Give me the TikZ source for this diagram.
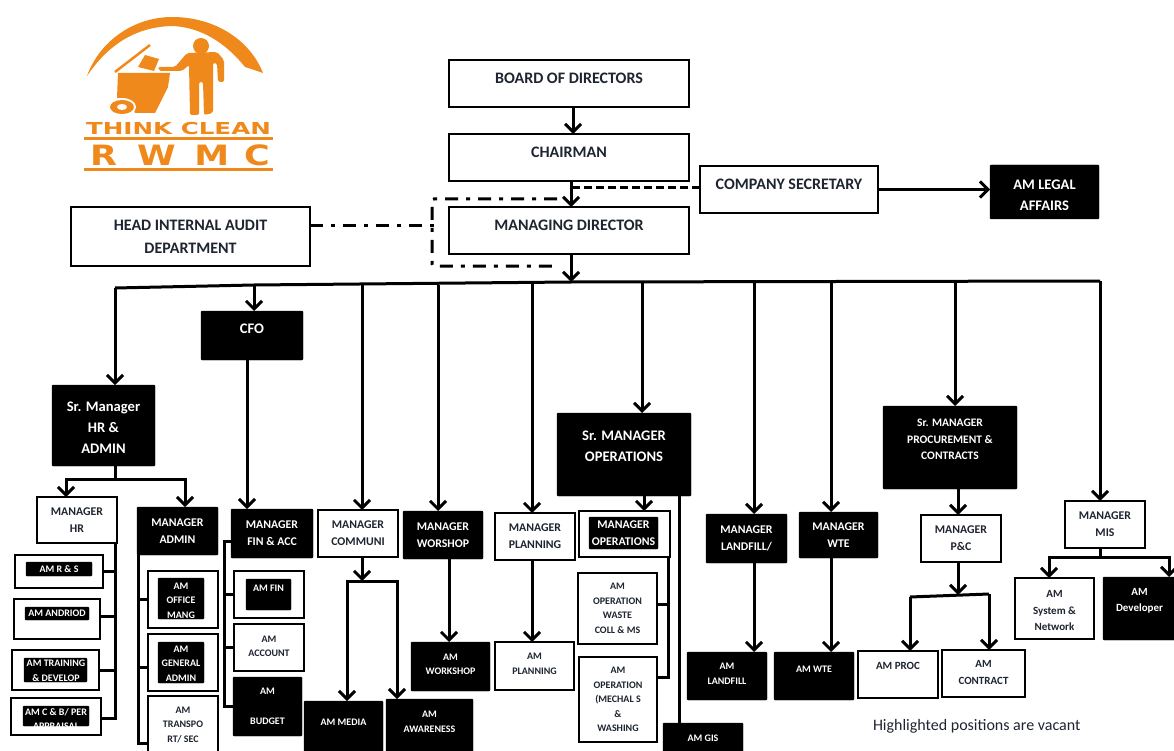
\documentclass[tikz,border=0pt]{standalone}
\usepackage{fontspec}
\setmainfont{Carlito}
\newfontfamily\logofont{DejaVu Sans}
\usetikzlibrary{arrows.meta}
\definecolor{LOGO_COLOR}{HTML}{F0891B}
\definecolor{TEXT_COLOR}{HTML}{1E2430}
\tikzset{
 span/.style n args={4}{anchor=north west, at={(#1,#2)}, minimum width={(#3-#1)*1pt}, minimum height={(#4-#2)*1pt}}
}
\tikzstyle{layer} = [rectangle, inner sep=0pt, outer sep=0pt, align=center]
\tikzstyle{big_font} = [font=\fontsize{16}{23}\selectfont\bfseries]
\tikzstyle{head_font} = [font=\fontsize{14.6}{21}\selectfont\bfseries]
\tikzstyle{small_font} = [font=\fontsize{11.8}{17}\selectfont\bfseries]
\tikzstyle{am_font} = [font=\fontsize{10}{14.5}\selectfont\bfseries]
\tikzstyle{wide_font} = [font=\fontsize{11}{16.5}\selectfont\bfseries]
\tikzstyle{white_box} = [layer, draw=black, line width=2.8pt, fill=white, text=TEXT_COLOR]
\tikzstyle{black_box} = [layer, draw=black, fill=black, text=white, rounded corners=1pt]
\tikzstyle{white_text} = [layer, text=white, am_font]
\tikzstyle{up} = [text depth=#1]
\tikzstyle{line} = [line width=3pt]
\tikzstyle{arrow} = [line, -{Straight Barb[length=8pt,width=16pt]}]
\tikzstyle{dash_dot} = [line, dash pattern=on 13pt off 8pt on 4pt off 8pt]
\begin{document}
\begin{tikzpicture}[x=1pt, y=-1pt]
      \useasboundingbox (0,0) rectangle (1174,751);

      %%%%%%%%%%%%%%%%%%%%%%%%%%%%%%%%%%%%%%%%%%%%%%%%%
      % LOGO
      %%%%%%%%%%%%%%%%%%%%%%%%%%%%%%%%%%%%%%%%%%%%%%%%%
      \fill[LOGO_COLOR] (87,76) .. controls (100,40) and (135,17) .. (172,17) .. controls (215,17) and (250,40) .. (263,73) -- (245,67) .. controls (225,42) and (200,27) .. (172,26) .. controls (135,27) and (108,45) .. (87,76) -- cycle;
      \fill[LOGO_COLOR] (118,73) -- (170,73) -- (168,87) -- (155,113) -- (135,113) -- (130,100) -- (117,98) -- cycle;
      \fill[white] (122,107) ellipse (14 and 9);
      \fill[LOGO_COLOR] (122,107) ellipse (12 and 7);
      \fill[white] (122,107) ellipse (5 and 3);
      \draw[LOGO_COLOR, line width=2.5pt] (115,72) -- (150,45);
      \fill[LOGO_COLOR] (145,55) -- (159,59) -- (154,71) -- (138,67) -- cycle;
      \fill[LOGO_COLOR] (201,46) circle (8);
      \fill[LOGO_COLOR, rounded corners=2pt] (158,67) -- (175,67) -- (187,53) -- (217,52) -- (224,60) -- (224,82) -- (218,82) -- (217,63) -- (213,63) -- (213,113) -- (204,115) -- (203,82) -- (199,82) -- (199,115) -- (190,115) -- (189,65) -- (182,71) -- (159,71) -- cycle;
      \node[layer, text=LOGO_COLOR, font=\logofont\fontsize{16.5}{18}\selectfont\bfseries] (LOGO1) at (178.5,128) {\scalebox{1.49}[1]{THINK CLEAN}};
      \draw[LOGO_COLOR, line width=3pt] (84,139) -- (273,139);
      \node[layer, text=LOGO_COLOR, font=\logofont\fontsize{28}{30}\selectfont\bfseries] (LOGO2) at (180,155) {\scalebox{1.25}[1]{R\hspace{16pt}W\hspace{15pt}M\hspace{12pt}C}};
      \draw[LOGO_COLOR, line width=3pt] (84,170) -- (273,170);

      %%%%%%%%%%%%%%%%%%%%%%%%%%%%%%%%%%%%%%%%%%%%%%%%%
      % TOP OF THE CHART
      %%%%%%%%%%%%%%%%%%%%%%%%%%%%%%%%%%%%%%%%%%%%%%%%%
      \node[white_box, big_font, up=11pt, span={449}{60}{689}{107}] (BOD) {BOARD OF DIRECTORS};
      \node[white_box, big_font, up=11pt, span={449}{134}{689}{181}] (CHAIR) {CHAIRMAN};
      \node[white_box, big_font, up=11pt, span={449}{207}{689}{254}] (MD) {MANAGING DIRECTOR};
      \node[white_box, big_font, span={71}{207}{310}{266}] (AUDIT) {HEAD INTERNAL AUDIT\\DEPARTMENT};
      \node[white_box, big_font, up=11pt, span={700}{166}{878}{213}] (SEC) {COMPANY SECRETARY};
      \node[black_box, head_font, text height=37pt, span={990}{165}{1099}{219}] (LEGAL) {AM LEGAL\\AFFAIRS};

      \coordinate (BUSL) at (115,288);
      \coordinate (BUSC) at (254,285);
      \coordinate (BUSM) at (571,282);
      \coordinate (BUSR) at (1100,281);
      \coordinate (SECJ) at (573,188);
      \coordinate (AUDJ) at (435,226);
      \coordinate (BR1) at (557,199);
      \coordinate (BR2) at (432,199);
      \coordinate (BR3) at (432,266);
      \coordinate (BR4) at (557,266);

      %%%%%%%%%%%%%%%%%%%%%%%%%%%%%%%%%%%%%%%%%%%%%%%%%
      % HR AND ADMIN
      %%%%%%%%%%%%%%%%%%%%%%%%%%%%%%%%%%%%%%%%%%%%%%%%%
      \node[black_box, head_font, text height=56pt, span={52}{385}{155}{466}] (SRHR) {Sr. Manager\\HR \&\\ADMIN};
      \node[white_box, small_font, span={37}{497}{117}{543}] (MGRHR) {MANAGER\\HR};
      \node[black_box, small_font, span={137}{507}{218}{555}] (ADMIN) {MANAGER\\ADMIN};

      % hr
      \node[white_box, span={15}{555}{103}{588}] (RS) {};
      \node[black_box, am_font, span={26}{562}{92}{576}] (RSIN) {AM R \& S};
      \node[white_box, span={14}{599}{100}{639}] (ANDRIOD) {};
      \node[black_box, am_font, span={25}{607}{89}{620}] (ANDIN) {AM ANDRIOD};
      \node[white_box, span={12}{650}{99}{690}] (TRAIN) {};
      \node[black_box, span={24}{658}{87}{682}] (TRAININ) {};
      \node[white_text] (TRAINTXT) at (56,671) {AM TRAINING\\\& DEVELOP};
      \node[white_box, span={11}{698}{101}{735}] (CB) {};
      \node[black_box, span={23}{706}{89}{726}] (CBIN) {};
      \node[white_text] (CBTXT) at (56,719) {AM C \& B/ PER\\APPRAISAL};

      % admin
      \node[white_box, span={148}{571}{218}{628}] (OFFICE) {};
      \node[black_box, span={158}{578}{204}{619}] (OFFIN) {};
      \node[white_text] (OFFTXT) at (181,600.5) {AM\\OFFICE\\MANG};
      \node[white_box, span={148}{634}{218}{691}] (GENERAL) {};
      \node[black_box, span={158}{642}{204}{683}] (GENIN) {};
      \node[white_text] (GENTXT) at (181,663.5) {AM\\GENERAL\\ADMIN};
      \node[white_box, am_font, span={148}{696}{218}{753}] (TRANSPO) {AM\\TRANSPO\\RT/ SEC};

      %%%%%%%%%%%%%%%%%%%%%%%%%%%%%%%%%%%%%%%%%%%%%%%%%
      % FINANCE
      %%%%%%%%%%%%%%%%%%%%%%%%%%%%%%%%%%%%%%%%%%%%%%%%%
      \node[black_box, head_font, up=13pt, span={201}{311}{303}{360}] (CFO) {CFO};
      \node[black_box, small_font, span={231}{509}{313}{558}] (FIN) {MANAGER\\FIN \& ACC};
      \node[white_box, span={234}{571}{304}{618}] (AMFIN) {};
      \node[black_box, am_font, up=13pt, span={246}{579}{291}{610}] (AMFININ) {AM FIN};
      \node[white_box, am_font, up=2pt, span={234}{624}{304}{671}] (ACCOUNT) {AM\\ACCOUNT};
      \node[black_box, am_font, span={233}{677}{302}{736}] (BUDGET) {AM\\[15pt]BUDGET};

      %%%%%%%%%%%%%%%%%%%%%%%%%%%%%%%%%%%%%%%%%%%%%%%%%
      % COMMUNICATION, WORKSHOP, PLANNING
      %%%%%%%%%%%%%%%%%%%%%%%%%%%%%%%%%%%%%%%%%%%%%%%%%
      \node[white_box, small_font, span={318}{510}{398}{557}] (COMM) {MANAGER\\COMMUNI};
      \node[black_box, am_font, up=10pt, span={304}{701}{383}{753}] (MEDIA) {AM MEDIA};
      \node[black_box, am_font, up=8pt, span={386}{699}{473}{753}] (AWARE) {AM\\AWARENESS};
      \node[black_box, small_font, span={403}{511}{483}{559}] (WORK) {MANAGER\\WORSHOP};
      \node[black_box, am_font, up=4pt, span={411}{642}{490}{691}] (AMWORK) {AM\\WORKSHOP};
      \node[white_box, small_font, span={495}{513}{575}{560}] (PLAN) {MANAGER\\PLANNING};
      \node[white_box, am_font, up=4pt, span={495}{642}{574}{690}] (AMPLAN) {AM\\PLANNING};

      %%%%%%%%%%%%%%%%%%%%%%%%%%%%%%%%%%%%%%%%%%%%%%%%%
      % OPERATIONS
      %%%%%%%%%%%%%%%%%%%%%%%%%%%%%%%%%%%%%%%%%%%%%%%%%
      \node[black_box, head_font, up=17pt, span={557}{413}{691}{496}] (SROPS) {Sr. MANAGER\\OPERATIONS};
      \node[white_box, span={579}{511}{670}{557}] (OPS) {};
      \node[black_box, small_font, span={589}{517}{658}{549}] (OPSIN) {MANAGER\\OPERATIONS};
      \node[white_box, am_font, span={578}{573}{657}{644}] (WASTE) {AM\\OPERATION\\WASTE\\COLL \& MS};
      \node[white_box, am_font, span={579}{657}{657}{742}] (MECHAL) {AM\\OPERATION\\(MECHAL S\\\&\\WASHING};
      \node[black_box, am_font, span={663}{723}{743}{753}] (GIS) {AM GIS};

      \node[black_box, small_font, span={706}{514}{787}{563}] (LAND) {MANAGER\\LANDFILL/};
      \node[black_box, am_font, up=4pt, span={687}{652}{767}{700}] (AMLAND) {AM\\LANDFILL};
      \node[black_box, small_font, span={799}{512}{878}{558}] (WTE) {MANAGER\\WTE};
      \node[black_box, am_font, up=14pt, span={774}{652}{854}{700}] (AMWTE) {AM WTE};

      %%%%%%%%%%%%%%%%%%%%%%%%%%%%%%%%%%%%%%%%%%%%%%%%%
      % PROCUREMENT, MIS
      %%%%%%%%%%%%%%%%%%%%%%%%%%%%%%%%%%%%%%%%%%%%%%%%%
      \node[black_box, font=\fontsize{11.5}{16.5}\selectfont\bfseries, up=16pt, span={883}{406}{1017}{489}] (SRPROC) {Sr. MANAGER\\PROCUREMENT \&\\CONTRACTS};
      \node[white_box, small_font, span={921}{515}{1001}{562}] (PC) {MANAGER\\P\&C};
      \node[white_box, wide_font, up=17pt, span={858}{651}{938}{698}] (PROC) {AM PROC};
      \node[white_box, wide_font, up=2pt, span={942}{650}{1025}{697}] (CONTRACT) {AM\\CONTRACT};
      \node[white_box, small_font, span={1065}{501}{1145}{548}] (MIS) {MANAGER\\MIS};
      \node[white_box, wide_font, text height=45pt, span={1015}{578}{1094}{639}] (SYSNET) {AM\\System \&\\Network};
      \node[black_box, wide_font, up=17pt, span={1103}{577}{1176}{640}] (DEV) {AM\\Developer};

      \node[layer, anchor=west, text=TEXT_COLOR, font=\fontsize{16}{18}\selectfont] (NOTE) at (873,726) {Highlighted positions are vacant};

      %%%%%%%%%%%%%%%%%%%%%%%%%%%%%%%%%%%%%%%%%%%%%%%%%
      % CONNECTORS
      %%%%%%%%%%%%%%%%%%%%%%%%%%%%%%%%%%%%%%%%%%%%%%%%%
      \draw[arrow] ([xshift=4pt]BOD.south) -- ([xshift=4pt]CHAIR.north);
      \draw[arrow] ([xshift=2pt]CHAIR.south) -- ([xshift=2pt]MD.north);
      \draw[arrow] ([xshift=2pt]MD.south) -- (BUSM);
      \draw[line, dash pattern=on 8pt off 4pt] ([yshift=1.5pt]SEC.west) -- (SECJ);
      \draw[arrow] (SEC.east) -- (SEC.east -| LEGAL.west);
      \draw[dash_dot] ([yshift=10.5pt]AUDIT.east) -- (AUDJ);
      \draw[dash_dot, rounded corners=2pt] (BR1) -- (BR2) -- (BR3) -- (BR4);

      % bus
      \draw[line] (BUSL) -- (BUSC) -- (BUSM) -- (BUSR);
      \draw[arrow] (BUSL) -- ([xshift=11.5pt]SRHR.north);
      \draw[arrow] (BUSC) -- ([xshift=2pt]CFO.north);
      \draw[arrow] ([xshift=4pt]COMM.north |- BUSC) -- ([xshift=4pt]COMM.north);
      \draw[arrow] ([xshift=-5pt]WORK.north |- BUSC) -- ([xshift=-5pt]WORK.north);
      \draw[arrow] ([xshift=-3pt]PLAN.north |- BUSM) -- ([xshift=-3pt]PLAN.north);
      \draw[arrow] ([xshift=18pt]SROPS.north |- BUSM) -- ([xshift=18pt]SROPS.north);
      \draw[arrow] ([xshift=7.5pt]LAND.north |- BUSM) -- ([xshift=7.5pt]LAND.north);
      \draw[arrow] ([xshift=-7.5pt]WTE.north |- BUSM) -- ([xshift=-7.5pt]WTE.north);
      \draw[arrow] ([xshift=5pt]SRPROC.north |- BUSM) -- ([xshift=5pt]SRPROC.north);
      \draw[arrow] (BUSR) -- ([xshift=-5pt]MIS.north);

      % hr and admin
      \coordinate (HRJ) at (115,479);
      \coordinate (HRT) at (115,543);
      \coordinate (ADT) at (138,555);
      \draw[line] ([xshift=11.5pt]SRHR.south) -- (HRJ);
      \draw[arrow] (HRJ) -| ([xshift=-11pt]MGRHR.north);
      \draw[arrow] (HRJ) -| ([xshift=7.5pt]ADMIN.north);
      \draw[line] (HRT) |- ([yshift=-1.5pt]CB.east);
      \draw[line] (HRT |- RS.east) -- (RS.east);
      \draw[line] ([yshift=3pt]HRT |- ANDRIOD.east) -- ([yshift=3pt]ANDRIOD.east);
      \draw[line] (HRT |- TRAIN.east) -- (TRAIN.east);
      \draw[line] (ADT) |- ([yshift=-18.5pt]TRANSPO.west);
      \draw[line] (ADT |- OFFICE.west) -- (OFFICE.west);
      \draw[line] ([yshift=-5pt]ADT |- GENERAL.west) -- ([yshift=-5pt]GENERAL.west);

      % finance
      \coordinate (FINT) at (224,541);
      \draw[arrow] ([xshift=-5pt]CFO.south) -- ([xshift=-25pt]FIN.north);
      \draw[line] (FINT -| FIN.west) -- (FINT) |- (BUDGET.west);
      \draw[line] (FINT |- AMFIN.west) -- (AMFIN.west);
      \draw[line] (FINT |- ACCOUNT.west) -- (ACCOUNT.west);

      % communication, workshop, planning
      \coordinate (COMJ) at (362,581);
      \draw[arrow] ([xshift=4pt]COMM.south) -- (COMJ);
      \draw[arrow] (COMJ) -| ([xshift=3.5pt]MEDIA.north);
      \draw[arrow] (COMJ) -| ([xshift=-32.5pt]AWARE.north);
      \draw[arrow] ([xshift=6pt]WORK.south) -- ([xshift=-1.5pt]AMWORK.north);
      \draw[arrow] ([xshift=-3pt]PLAN.south) -- ([xshift=-2.5pt]AMPLAN.north);

      % operations
      \coordinate (OPT) at (668,557);
      \draw[arrow] ([xshift=20pt]SROPS.south) -- ([xshift=19.5pt]OPS.north);
      \draw[line] ([xshift=55pt]SROPS.south) -- ([xshift=-24pt]GIS.north);
      \draw[line] (OPT) |- ([yshift=22.5pt]MECHAL.east);
      \draw[line] ([yshift=4.5pt]OPT |- WASTE.east) -- ([yshift=4.5pt]WASTE.east);
      \draw[arrow] ([xshift=7.5pt]LAND.south) -- ([xshift=27pt]AMLAND.north);
      \draw[arrow] ([xshift=-7.5pt]WTE.south) -- ([xshift=17pt]AMWTE.north);

      % procurement, mis
      \coordinate (PCJ) at (958,595);
      \coordinate (PCL) at (910,597);
      \coordinate (PCR) at (989,594);
      \coordinate (MISJ) at (1100,557);
      \draw[arrow] ([xshift=8pt]SRPROC.south) -- ([xshift=-3pt]PC.north);
      \draw[arrow] ([xshift=-3pt]PC.south) -- (PCJ);
      \draw[line] (PCL) -- (PCR);
      \draw[arrow] (PCL) -- ([xshift=12pt]PROC.north);
      \draw[arrow] (PCR) -- ([xshift=5.5pt]CONTRACT.north);
      \draw[line] ([xshift=-5pt]MIS.south) -- (MISJ);
      \draw[arrow] (MISJ) -| ([xshift=-5.5pt]SYSNET.north);
      \draw[arrow] (MISJ) -| ([xshift=29.5pt]DEV.north);
\end{tikzpicture}
\end{document}
